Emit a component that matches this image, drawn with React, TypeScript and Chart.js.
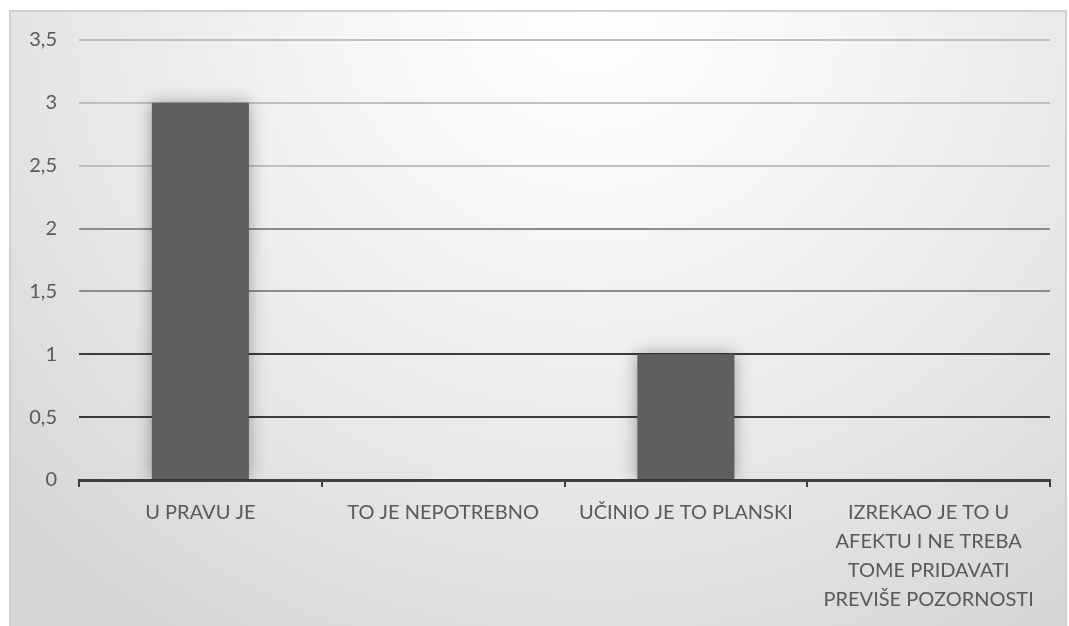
import React, { useEffect, useRef } from "react";
import { Chart, registerables } from "chart.js";

Chart.register(...registerables);

const categories: (string | string[])[] = [
  "U PRAVU JE",
  "TO JE NEPOTREBNO",
  "UČINIO JE TO PLANSKI",
  ["IZREKAO JE TO U", "AFEKTU I NE TREBA", "TOME PRIDAVATI", "PREVIŠE POZORNOSTI"],
];
const values: number[] = [3, 0, 1, 0];
const yTickLabels: string[] = ["0", "0,5", "1", "1,5", "2", "2,5", "3", "3,5"];

const FONT = "Lato, 'Open Sans', sans-serif";

const shadowPlugin = {
  id: "barShadow",
  beforeDatasetsDraw(chart: any) {
    const ctx = chart.ctx;
    ctx.save();
    ctx.shadowColor = "rgba(0,0,0,0.35)";
    ctx.shadowBlur = 16;
    ctx.shadowOffsetX = 0;
    ctx.shadowOffsetY = 0;
  },
  afterDatasetsDraw(chart: any) {
    chart.ctx.restore();
  },
};

function gridColor(v: number): string {
  if (v <= 0) return "rgba(0,0,0,0)";
  if (v <= 1) return "#3c3c3c";
  if (v <= 2) return "#8c8c8c";
  return "#bfbfbf";
}

export default function App() {
  const ref = useRef<HTMLCanvasElement | null>(null);

  useEffect(() => {
    document.body.style.margin = "0";
    const canvas = ref.current;
    if (!canvas) return;
    const chart = new Chart(canvas, {
      type: "bar",
      data: {
        labels: categories as any,
        datasets: [
          {
            data: values,
            backgroundColor: "#5f5f5f",
            borderWidth: 0,
            barPercentage: 0.4,
            categoryPercentage: 1,
          },
        ],
      },
      plugins: [shadowPlugin],
      options: {
        animation: false,
        responsive: false,
        maintainAspectRatio: false,
        layout: { padding: { left: 0, right: 19, top: 40, bottom: 0 } },
        plugins: {
          legend: { display: false },
          tooltip: { enabled: false },
        },
        scales: {
          x: {
            afterFit: (s: any) => {
              s.height = 146;
            },
            border: { display: true, color: "#404040", width: 3 },
            grid: {
              drawOnChartArea: false,
              drawTicks: true,
              tickLength: 7,
              color: "#404040",
              lineWidth: 2,
            },
            ticks: {
              color: "#595959",
              font: { family: FONT, size: 20, lineHeight: 1.45 },
              padding: 11,
              maxRotation: 0,
              autoSkip: false,
            },
          },
          y: {
            min: 0,
            max: 3.5,
            afterFit: (s: any) => {
              s.width = 79;
            },
            border: { display: false },
            grid: {
              drawTicks: false,
              lineWidth: 2,
              color: (c: any) => gridColor(c.tick ? c.tick.value : 0),
            },
            ticks: {
              stepSize: 0.5,
              color: "#595959",
              font: { family: FONT, size: 20 },
              padding: 22,
              callback: (_v: any, i: number) => yTickLabels[i],
            },
          },
        },
      },
    });
    return () => chart.destroy();
  }, []);

  return (
    <div style={{ position: "relative", width: 1069, height: 626, overflow: "hidden", background: "#ffffff" }}>
      <div
        style={{
          position: "absolute",
          left: 9,
          top: 10,
          width: 1058,
          height: 640,
          boxSizing: "border-box",
          border: "2px solid #d0d0d0",
          background:
            "radial-gradient(ellipse 75% 115% at 55% 0%, #ffffff 0%, #f6f6f6 30%, #e6e6e6 68%, #d6d6d6 100%)",
        }}
      />
      <canvas ref={ref} width={1069} height={626} style={{ position: "absolute", left: 0, top: 0 }} />
    </div>
  );
}
